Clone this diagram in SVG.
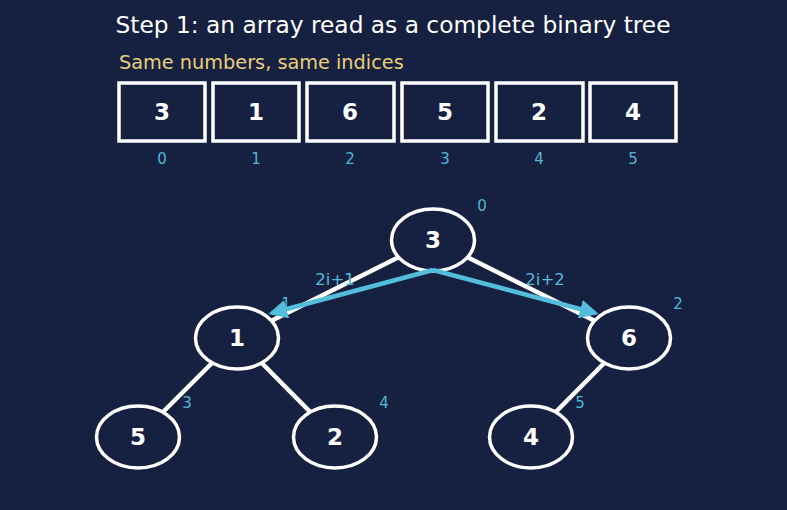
<svg xmlns="http://www.w3.org/2000/svg" width="787" height="510" viewBox="0 0 787 510">
<defs>
<style>
.t{font-family:"DejaVu Sans",sans-serif}
.box{fill:#162040;stroke:#fff;stroke-width:3.5}
.val{font-family:"DejaVu Sans",sans-serif;font-weight:bold;font-size:23px;fill:#fff;text-anchor:middle;dominant-baseline:central}
.idx{font-family:"DejaVu Sans",sans-serif;font-size:15px;fill:#4fb8d4;text-anchor:middle;dominant-baseline:central}
.node{fill:#162040;stroke:#fff;stroke-width:3.5}
.edge{stroke:#fff;stroke-width:4.5;fill:none}
.arr{stroke:#52bedb;stroke-width:4.5;fill:none;marker-end:url(#ah)}
.lbl{font-family:"DejaVu Sans",sans-serif;font-size:16.5px;fill:#52bedb;text-anchor:middle;dominant-baseline:central}
</style>
<marker id="ah" viewBox="0 0 10 10" refX="8" refY="5" markerWidth="4.2" markerHeight="4.2" orient="auto" markerUnits="strokeWidth">
<path d="M0,0 L10,5 L0,10 z" fill="#52bedb"/>
</marker>
</defs>
<rect width="787" height="510" fill="#162040"/>
<text class="t" x="393" y="24" font-size="23.3" fill="#fff" text-anchor="middle" dominant-baseline="central">Step 1: an array read as a complete binary tree</text>
<text class="t" x="119" y="62" font-size="19.3" fill="#e8cf78" dominant-baseline="central">Same numbers, same indices</text>
<g id="array">
<g id="a0"><rect class="box" x="119" y="83" width="86" height="58"/><text class="val" x="162" y="112">3</text><text class="idx" x="162" y="159">0</text></g>
<g id="a1"><rect class="box" x="213" y="83" width="86" height="58"/><text class="val" x="256" y="112">1</text><text class="idx" x="256" y="159">1</text></g>
<g id="a2"><rect class="box" x="307" y="83" width="87" height="58"/><text class="val" x="350" y="112">6</text><text class="idx" x="350" y="159">2</text></g>
<g id="a3"><rect class="box" x="402" y="83" width="86" height="58"/><text class="val" x="445" y="112">5</text><text class="idx" x="445" y="159">3</text></g>
<g id="a4"><rect class="box" x="496" y="83" width="87" height="58"/><text class="val" x="539" y="112">2</text><text class="idx" x="539" y="159">4</text></g>
<g id="a5"><rect class="box" x="590" y="83" width="86" height="58"/><text class="val" x="633" y="112">4</text><text class="idx" x="633" y="159">5</text></g>
</g>
<g id="edges">
<line class="edge" x1="433" y1="240" x2="237" y2="338"/>
<line class="edge" x1="433" y1="240" x2="629" y2="338"/>
<line class="edge" x1="237" y1="338" x2="138" y2="437"/>
<line class="edge" x1="237" y1="338" x2="335" y2="437"/>
<line class="edge" x1="629" y1="338" x2="531" y2="437"/>
</g>
<g id="n0"><ellipse class="node" cx="433" cy="240" rx="41.5" ry="31"/><text class="val" x="433" y="240">3</text><text class="idx" x="482" y="206">0</text></g>
<g id="n1"><ellipse class="node" cx="237" cy="338" rx="41.5" ry="31"/><text class="val" x="237" y="338">1</text><text class="idx" x="286" y="304">1</text></g>
<g id="n2"><ellipse class="node" cx="629" cy="338" rx="41.5" ry="31"/><text class="val" x="629" y="338">6</text><text class="idx" x="678" y="304">2</text></g>
<g id="n3"><ellipse class="node" cx="138" cy="437" rx="41.5" ry="31"/><text class="val" x="138" y="437">5</text><text class="idx" x="187" y="403">3</text></g>
<g id="n4"><ellipse class="node" cx="335" cy="437" rx="41.5" ry="31"/><text class="val" x="335" y="437">2</text><text class="idx" x="384" y="403">4</text></g>
<g id="n5"><ellipse class="node" cx="531" cy="437" rx="41.5" ry="31"/><text class="val" x="531" y="437">4</text><text class="idx" x="580" y="403">5</text></g>
<g id="arrows">
<line class="arr" x1="433" y1="270" x2="272" y2="313"/>
<line class="arr" x1="433" y1="270" x2="595" y2="313"/>
<text class="lbl" x="335" y="279">2i+1</text>
<text class="lbl" x="545" y="279">2i+2</text>
</g>
</svg>
